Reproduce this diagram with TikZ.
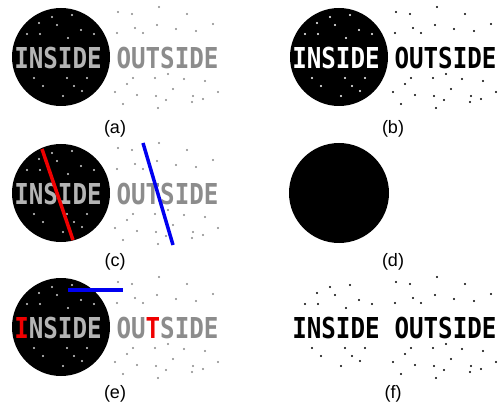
\documentclass[tikz,border=0pt]{standalone}
\usepackage{fontspec}
\setmainfont{Liberation Sans}
\newfontfamily\signfam{DejaVu Sans Mono Bold}
\newcommand{\signtext}[1]{\scalebox{0.84}[1]{\signfam\fontsize{28.8}{30}\selectfont #1}}
% dot positions of one panel, in pixels
\newcommand{\indots}{52/17,72/15,39/23,57/25,27/34,40/34,81/30,94/34,68/38,34/78,67/78,87/78,43/86,74/86,82/91,63/96}
\newcommand{\outdots}{118/12,132/14,159/7,187/14,135/28,157/25,176/29,196/31,213/24,117/33,143/33,133/78,155/78,168/74,184/79,205/81,127/84,173/89,115/92,137/95,156/96,166/100,193/96,203/99,218/92,192/102,123/104,158/108}
\definecolor{paletext}{HTML}{B4B4B4}
\definecolor{midtext}{HTML}{8C8C8C}
\definecolor{paledot}{HTML}{D2D2D2}
\definecolor{middot}{HTML}{888888}
\definecolor{cutblue}{HTML}{0000F0}
\definecolor{cutred}{HTML}{F00000}
\begin{document}
\begin{tikzpicture}[x=1pt,y=-1pt,
    disc/.style={fill=black},
    sign/.style={inner sep=0pt},
    caption/.style={inner sep=0pt,font=\fontsize{18}{20}\selectfont},
    cut/.style={line width=3.5pt}]
  \useasboundingbox (0,0) rectangle (499,404);

  % (a)
  \fill[disc] (61,57) circle (49pt);
  \foreach \x/\y in \indots {\fill[paledot] (\x,\y) circle (1.1pt);}
  \foreach \x/\y in \outdots {\fill[middot] (\x,\y) circle (1.1pt);}
  \node[sign,text=paletext] (ina) at (58,58.5) {\signtext{INSIDE}};
  \node[sign,text=midtext] (outa) at (167.5,58.5) {\signtext{OUTSIDE}};
  \node[caption] (capa) at (115,129) {(a)};

  % (b)
  \begin{scope}[shift={(278,0)}]
    \fill[disc] (61,57) circle (49pt);
    \foreach \x/\y in \indots {\fill[white] (\x,\y) circle (1.1pt);}
    \foreach \x/\y in \outdots {\fill[black] (\x,\y) circle (1.1pt);}
    \node[sign,text=white] (inb) at (58,58.5) {\signtext{INSIDE}};
    \node[sign,text=black] (outb) at (167.5,58.5) {\signtext{OUTSIDE}};
    \node[caption] (capb) at (115,129) {(b)};
  \end{scope}

  % (c)
  \begin{scope}[shift={(0,136)}]
    \fill[disc] (61,57) circle (49pt);
    \foreach \x/\y in \indots {\fill[paledot] (\x,\y) circle (1.1pt);}
    \foreach \x/\y in \outdots {\fill[middot] (\x,\y) circle (1.1pt);}
    \node[sign,text=paletext] (inc) at (58,58.5) {\signtext{INSIDE}};
    \node[sign,text=midtext] (outc) at (167.5,58.5) {\signtext{OUTSIDE}};
    \draw[cut,cutred] (42,13) -- (73,104);
    \draw[cut,cutblue] (143,7) -- (173,109);
    \node[caption] (capc) at (115,126) {(c)};
  \end{scope}

  % (d)
  \begin{scope}[shift={(278,136)}]
    \fill[disc] (61,57) circle (50pt);
    \node[caption] (capd) at (115,126) {(d)};
  \end{scope}

  % (e)
  \begin{scope}[shift={(0,270)}]
    \fill[disc] (61,57) circle (49pt);
    \foreach \x/\y in \indots {\fill[paledot] (\x,\y) circle (1.1pt);}
    \foreach \x/\y in \outdots {\fill[middot] (\x,\y) circle (1.1pt);}
    \node[sign,text=paletext] (ine) at (58,58.5) {\signtext{{\color{cutred}I}NSIDE}};
    \node[sign,text=midtext] (oute) at (167.5,58.5) {\signtext{OU{\color{cutred}T}SIDE}};
    \draw[cut,cutblue,line width=4pt] (68,20) -- (123,20);
    \node[caption] (cape) at (115,124) {(e)};
  \end{scope}

  % (f)
  \begin{scope}[shift={(278,270)}]
    \foreach \x/\y in \indots {\fill[black] (\x,\y) circle (1.1pt);}
    \foreach \x/\y in \outdots {\fill[black] (\x,\y) circle (1.1pt);}
    \node[sign,text=black] (inf) at (58,58.5) {\signtext{INSIDE}};
    \node[sign,text=black] (outf) at (167.5,58.5) {\signtext{OUTSIDE}};
    \node[caption] (capf) at (115,124) {(f)};
  \end{scope}
\end{tikzpicture}
\end{document}
